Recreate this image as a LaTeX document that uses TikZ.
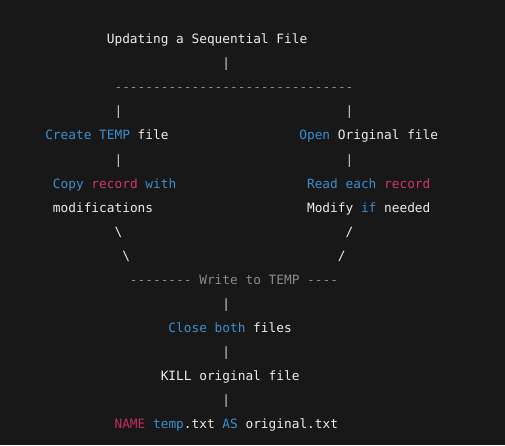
\documentclass[tikz,border=0pt]{standalone}
\usepackage{fontspec}
\setmonofont{DejaVu Sans Mono}
\definecolor{codebg}{HTML}{181818}
\definecolor{codefg}{HTML}{EDEDED}
\definecolor{kwblue}{HTML}{3A8FCE}
\definecolor{kwpink}{HTML}{D2346C}
\definecolor{kwname}{HTML}{BE2E60}
\definecolor{rulegray}{HTML}{8A8A8A}
\definecolor{pipegray}{HTML}{CFCFCF}
\newcommand{\kwb}[1]{\textcolor{kwblue}{#1}}
\newcommand{\kwp}[1]{\textcolor{kwpink}{#1}}
\tikzset{
  codeline/.style={inner sep=0pt,anchor=base west,text=codefg,
    font=\ttfamily\fontsize{9.6}{12}\selectfont},
  pipe/.style={codeline,text=pipegray},
  rule/.style={codeline,text=rulegray}
}
\begin{document}
\begin{tikzpicture}[x=0.75pt,y=-0.75pt]
	\fill[codebg] (0,0) rectangle (505,445); %background of the code block
	\node[codeline] (title) at (106.6,44) {Updating a Sequential File};
	\node[pipe] (pipeA) at (222.1,68) {|};
	\node[rule] (split) at (114.3,92) {-------------------------------};
	\node[pipe] (pipeL1) at (114.3,116) {|};
	\node[pipe] (pipeR1) at (345.3,116) {|};
	%left branch
	\node[codeline] (create) at (45,140) {\kwb{Create TEMP} file};
	\node[pipe] (pipeL2) at (114.3,164) {|};
	\node[codeline] (copy) at (52.7,188) {\kwb{Copy} \kwp{record} \kwb{with}};
	\node[codeline] (copyb) at (52.7,212) {modifications};
	\node[codeline] (bsA) at (114.3,236) {\textbackslash};
	\node[codeline] (bsB) at (122,260) {\textbackslash};
	%right branch
	\node[codeline] (open) at (299.1,140) {\kwb{Open} Original file};
	\node[pipe] (pipeR2) at (345.3,164) {|};
	\node[codeline] (read) at (306.8,188) {\kwb{Read each} \kwp{record}};
	\node[codeline] (modify) at (306.8,212) {Modify \kwb{if} needed};
	\node[codeline] (slA) at (345.3,236) {/};
	\node[codeline] (slB) at (337.6,260) {/};
	%merge and the last steps
	\node[rule] (merge) at (129.7,284) {-------- Write to TEMP ----};
	\node[pipe] (pipeB) at (222.1,308) {|};
	\node[codeline] (close) at (168.2,332) {\kwb{Close both} files};
	\node[pipe] (pipeC) at (222.1,356) {|};
	\node[codeline] (kill) at (160.5,380) {KILL original file};
	\node[pipe] (pipeD) at (222.1,404) {|};
	\node[codeline] (rename) at (114.3,428) {\textcolor{kwname}{NAME} \kwb{temp}.txt \kwb{AS} original.txt};
\end{tikzpicture}
\end{document}
